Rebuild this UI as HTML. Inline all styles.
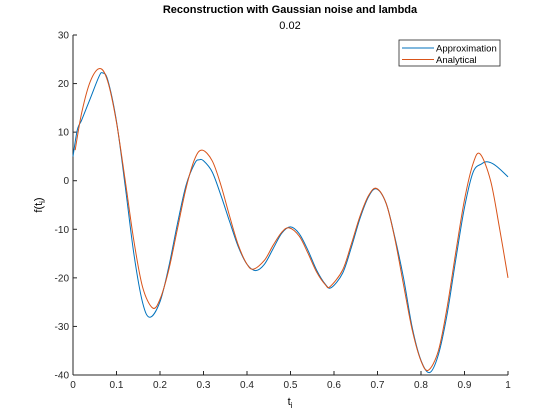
<!DOCTYPE html>
<html><head><meta charset="utf-8"><style>
body{margin:0;background:#fff;}
svg{display:block;font-family:"Liberation Sans",Arial,sans-serif;}
</style></head><body>
<svg id="chart" width="560" height="420">
<rect x="0" y="0" width="560" height="420" fill="#fff"/>
<text x="290" y="13" text-anchor="middle" font-size="11" font-weight="bold">Reconstruction with Gaussian noise and lambda</text>
<text x="290" y="29" text-anchor="middle" font-size="11">0.02</text>
<g id="axes"></g>
<g id="series"></g>
<text x="290" y="405" text-anchor="middle" font-size="11">t<tspan font-size="8" dy="3">i</tspan></text>
<text transform="translate(42,205) rotate(-90)" text-anchor="middle" font-size="11">f(t<tspan font-size="8" dy="3">i</tspan><tspan dy="-3">)</tspan></text>
<g>
<rect x="399" y="40" width="101" height="26" fill="#fff" stroke="#262626" stroke-width="0.8"/>
<line x1="402" y1="48" x2="434" y2="48" stroke="#0072BD" stroke-width="1"/>
<text x="436" y="51.5" font-size="9.5">Approximation</text>
<line x1="402" y1="59.5" x2="434" y2="59.5" stroke="#D95319" stroke-width="1"/>
<text x="436" y="63" font-size="9.5">Analytical</text>
</g>
</svg>
<script>
const xTicks=[0,0.1,0.2,0.3,0.4,0.5,0.6,0.7,0.8,0.9,1];
const xTickLabels=["0","0.1","0.2","0.3","0.4","0.5","0.6","0.7","0.8","0.9","1"];
const yTicks=[-40,-30,-20,-10,0,10,20,30];
const yTickLabels=["-40","-30","-20","-10","0","10","20","30"];
const approxX=[0,0.01,0.02,0.04,0.06,0.068,0.08,0.10,0.12,0.14,0.16,0.177,0.20,0.22,0.24,0.26,0.28,0.29,0.30,0.32,0.34,0.36,0.38,0.40,0.42,0.44,0.46,0.48,0.50,0.52,0.54,0.56,0.58,0.594,0.62,0.64,0.66,0.68,0.698,0.72,0.74,0.76,0.78,0.80,0.82,0.84,0.86,0.88,0.90,0.92,0.94,0.951,0.965,0.98,1.0];
const approxY=[5,10.5,12.5,17,21.5,22.2,20.7,12.2,-1.1,-15.1,-25.1,-28.1,-24.9,-17.8,-8.9,-0.9,3.6,4.3,4.1,1.8,-3.0,-8.4,-13.6,-17.2,-18.5,-17.2,-14,-10.8,-9.5,-10.9,-14.3,-18.4,-21.3,-22,-19.0,-13.7,-7.7,-3.2,-1.7,-4.7,-11.7,-20.1,-30.3,-37.0,-39.5,-35.8,-27.5,-16.2,-5.5,1.8,3.5,3.9,3.5,2.5,0.8];
const analyticX=[0.005,0.02,0.04,0.062,0.08,0.10,0.12,0.14,0.16,0.183,0.20,0.22,0.24,0.26,0.28,0.297,0.32,0.34,0.36,0.38,0.40,0.415,0.44,0.46,0.48,0.497,0.52,0.54,0.56,0.58,0.591,0.62,0.64,0.66,0.68,0.698,0.72,0.74,0.76,0.78,0.80,0.817,0.84,0.86,0.88,0.90,0.92,0.936,0.96,0.98,1.0];
const analyticY=[6.3,14,20.5,23.1,20.4,12.0,0.05,-12.4,-21.9,-26.2,-24.4,-18.4,-9.95,-1.5,4.5,6.3,4.1,-0.9,-7.3,-13.25,-17.2,-18.2,-16.4,-13.3,-10.6,-9.7,-11.4,-14.9,-18.8,-21.4,-21.8,-18.35,-13.0,-7.25,-2.97,-1.6,-4.7,-12.0,-21.5,-30.8,-37.1,-39,-35.0,-26.1,-14.7,-3.9,3.6,5.5,0,-9.5,-20];
const X0=73,X1=508,Y0=375,Y1=35;
function sx(v){return X0+(v-0)/(1-0)*(X1-X0);}
function sy(v){return Y0-(v+40)/70*(Y0-Y1);}
const NS="http://www.w3.org/2000/svg";
const axes=document.getElementById('axes');
function mk(tag,attrs,parent){const e=document.createElementNS(NS,tag);for(const k in attrs)e.setAttribute(k,attrs[k]);parent.appendChild(e);return e;}
let l=mk('line',{x1:X0,y1:Y0,x2:X1,y2:Y0,stroke:'#262626','stroke-width':1},axes);


l=mk('line',{x1:X0,y1:Y0,x2:X0,y2:Y1,stroke:'#262626','stroke-width':1},axes);


xTicks.forEach((v,i)=>{
  const t=mk('line',{x1:sx(v),y1:Y0,x2:sx(v),y2:Y0-4,stroke:'#262626'},axes);
  
  
  const tx=mk('text',{x:sx(v),y:Y0+13,'text-anchor':'middle','font-size':10,fill:'#262626'},axes);
  tx.textContent=xTickLabels[i];
  
  
});
yTicks.forEach((v,i)=>{
  const t=mk('line',{x1:X0,y1:sy(v),x2:X0+4,y2:sy(v),stroke:'#262626'},axes);
  
  
  const tx=mk('text',{x:X0-4,y:sy(v)+3.5,'text-anchor':'end','font-size':10,fill:'#262626'},axes);
  tx.textContent=yTickLabels[i];
  
  
});
function smoothPath(xs,ys){
  const p=xs.map((x,i)=>[sx(x),sy(ys[i])]);
  let d='M'+p[0][0].toFixed(2)+','+p[0][1].toFixed(2);
  for(let i=0;i<p.length-1;i++){
    const a=p[Math.max(0,i-1)],b=p[i],c=p[i+1],e=p[Math.min(p.length-1,i+2)];
    const c1x=b[0]+(c[0]-a[0])/6,c1y=b[1]+(c[1]-a[1])/6;
    const c2x=c[0]-(e[0]-b[0])/6,c2y=c[1]-(e[1]-b[1])/6;
    d+=' C'+c1x.toFixed(2)+','+c1y.toFixed(2)+' '+c2x.toFixed(2)+','+c2y.toFixed(2)+' '+c[0].toFixed(2)+','+c[1].toFixed(2);
  }
  return d;
}
const series=document.getElementById('series');
const pa=mk('path',{d:smoothPath(approxX,approxY),fill:'none',stroke:'#0072BD','stroke-width':1},series);


const pb=mk('path',{d:smoothPath(analyticX,analyticY),fill:'none',stroke:'#D95319','stroke-width':1},series);


</script>
</body></html>
